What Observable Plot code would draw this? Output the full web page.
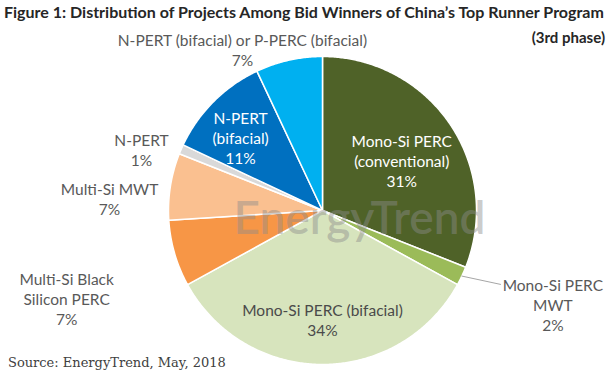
<!DOCTYPE html>
<html><head><meta charset="utf-8">
<script src="https://cdn.jsdelivr.net/npm/d3@7"></script>
<script src="https://cdn.jsdelivr.net/npm/@observablehq/plot@0.6"></script>
<style>
body{margin:0;background:#fff;width:613px;height:384px;position:relative;overflow:hidden;font-family:Lato,sans-serif}
#title{height:24px;line-height:24px;font-weight:700;font-size:16px;color:#262626;padding-left:4px;white-space:nowrap}
#sub{position:absolute;top:28px;right:8px;font-weight:700;font-size:15px;color:#262626}
#chart{height:360px}
#cap{position:absolute;left:8px;top:355px;font-family:"DejaVu Serif",serif;font-size:13px;color:#404040;white-space:nowrap}
</style></head><body>
<div id="title">Figure 1: Distribution of Projects Among Bid Winners of China’s Top Runner Program</div>
<div id="sub">(3rd phase)</div>
<div id="chart"></div>
<div id="cap">Source: EnergyTrend, May, 2018</div>
<script>
const categories = [
  "Mono-Si PERC (conventional)",
  "Mono-Si PERC MWT",
  "Mono-Si PERC (bifacial)",
  "Multi-Si Black Silicon PERC",
  "Multi-Si MWT",
  "N-PERT",
  "N-PERT (bifacial)",
  "N-PERT (bifacial) or P-PERC (bifacial)"
];
const shares = [31, 2, 34, 7, 7, 1, 11, 7];
const labelLines = [
  ["Mono-Si PERC", "(conventional)"],
  ["Mono-Si PERC", "MWT"],
  ["Mono-Si PERC (bifacial)"],
  ["Multi-Si Black", "Silicon PERC"],
  ["Multi-Si MWT"],
  ["N-PERT"],
  ["N-PERT", "(bifacial)"],
  ["N-PERT (bifacial) or P-PERC (bifacial)"]
];
const colors = ["#4f6228", "#9bbb59", "#d7e4bd", "#f79646", "#fac090", "#d9d9d9", "#0070c0", "#00b0f0"];

// label placement (style): radial factor and offsets in pie-radius units
const place = [
  {rf: 0.61, ox: 0.01, oy: 0.02, fill: "#ffffff"},
  {rf: 1.62, ox: 0.03, oy: -0.08, fill: "#595959"},
  {rf: 0.71, ox: 0, oy: 0, fill: "#4a4a4a"},
  {rf: 1.73, ox: 0, oy: 0.09, fill: "#595959"},
  {rf: 1.39, ox: -0.01, oy: 0.14, fill: "#595959"},
  {rf: 1.27, ox: -0.01, oy: 0.11, fill: "#595959"},
  {rf: 0.71, ox: -0.03, oy: 0.03, fill: "#ffffff"},
  {rf: 1.10, ox: -0.28, oy: 0.03, fill: "#595959"}
];

const total = d3.sum(shares);
const cum = d3.cumsum(shares);
const slices = categories.map((name, i) => {
  const a0 = (cum[i] - shares[i]) / total * 2 * Math.PI;
  const a1 = cum[i] / total * 2 * Math.PI;
  return {name, value: shares[i], a0, a1, mid: (a0 + a1) / 2, i};
});
const polar = (a, r) => [r * Math.sin(a), -r * Math.cos(a)];

const features = slices.map(s => {
  const n = Math.max(2, Math.ceil((s.a1 - s.a0) / (Math.PI / 360)));
  const ring = [[0, 0]];
  for (let k = 0; k <= n; ++k) ring.push(polar(s.a0 + (s.a1 - s.a0) * k / n, 1));
  ring.push([0, 0]);
  return {type: "Feature", properties: {name: s.name}, geometry: {type: "Polygon", coordinates: [ring]}};
});

const labels = slices.map(s => {
  const p = place[s.i];
  const [x, y] = polar(s.mid, p.rf);
  return {x: x + p.ox, y: y + p.oy, text: [...labelLines[s.i], s.value + "%"].join("\n"), fill: p.fill, name: s.name};
});

const mwt = labels[1];
const leader = [
  {x: polar(slices[1].mid, 1.0)[0], y: polar(slices[1].mid, 1.0)[1]},
  {x: mwt.x - 0.34, y: mwt.y - 0.13}
];

const fs = 15.5, lh = 1.3;
const chart = Plot.plot({
  width: 613,
  height: 360,
  marginLeft: 168,
  marginRight: 137,
  marginTop: 32,
  marginBottom: 20,
  projection: {type: "identity", clip: false, domain: {type: "MultiPoint", coordinates: [[-1, -1], [1, 1]]}},
  color: {domain: categories, range: colors},
  style: {fontFamily: "Lato, sans-serif", background: "transparent", overflow: "visible"},
  marks: [
    Plot.geo({type: "FeatureCollection", features}, {fill: d => d.properties.name, stroke: "#ffffff", strokeWidth: 1.5}),
    Plot.text([{x: 0.24, y: 0.06}], {x: "x", y: "y", text: () => "EnergyTrend", fontSize: 46, fontWeight: 600, fill: "#8c8c8c", fillOpacity: 0.45}),
    Plot.line(leader, {x: "x", y: "y", stroke: "#a6a6a6", strokeWidth: 1}),
    Plot.text(labels.filter(d => d.fill === "#ffffff"), {x: "x", y: "y", text: "text", fill: "#ffffff", fontSize: fs, lineHeight: lh}),
    Plot.text(labels.filter(d => d.fill === "#595959"), {x: "x", y: "y", text: "text", fill: "#595959", fontSize: fs, lineHeight: lh}),
    Plot.text(labels.filter(d => d.fill === "#4a4a4a"), {x: "x", y: "y", text: "text", fill: "#4a4a4a", fontSize: fs, lineHeight: lh})
  ]
});
document.getElementById("chart").appendChild(chart);
</script>
</body></html>
